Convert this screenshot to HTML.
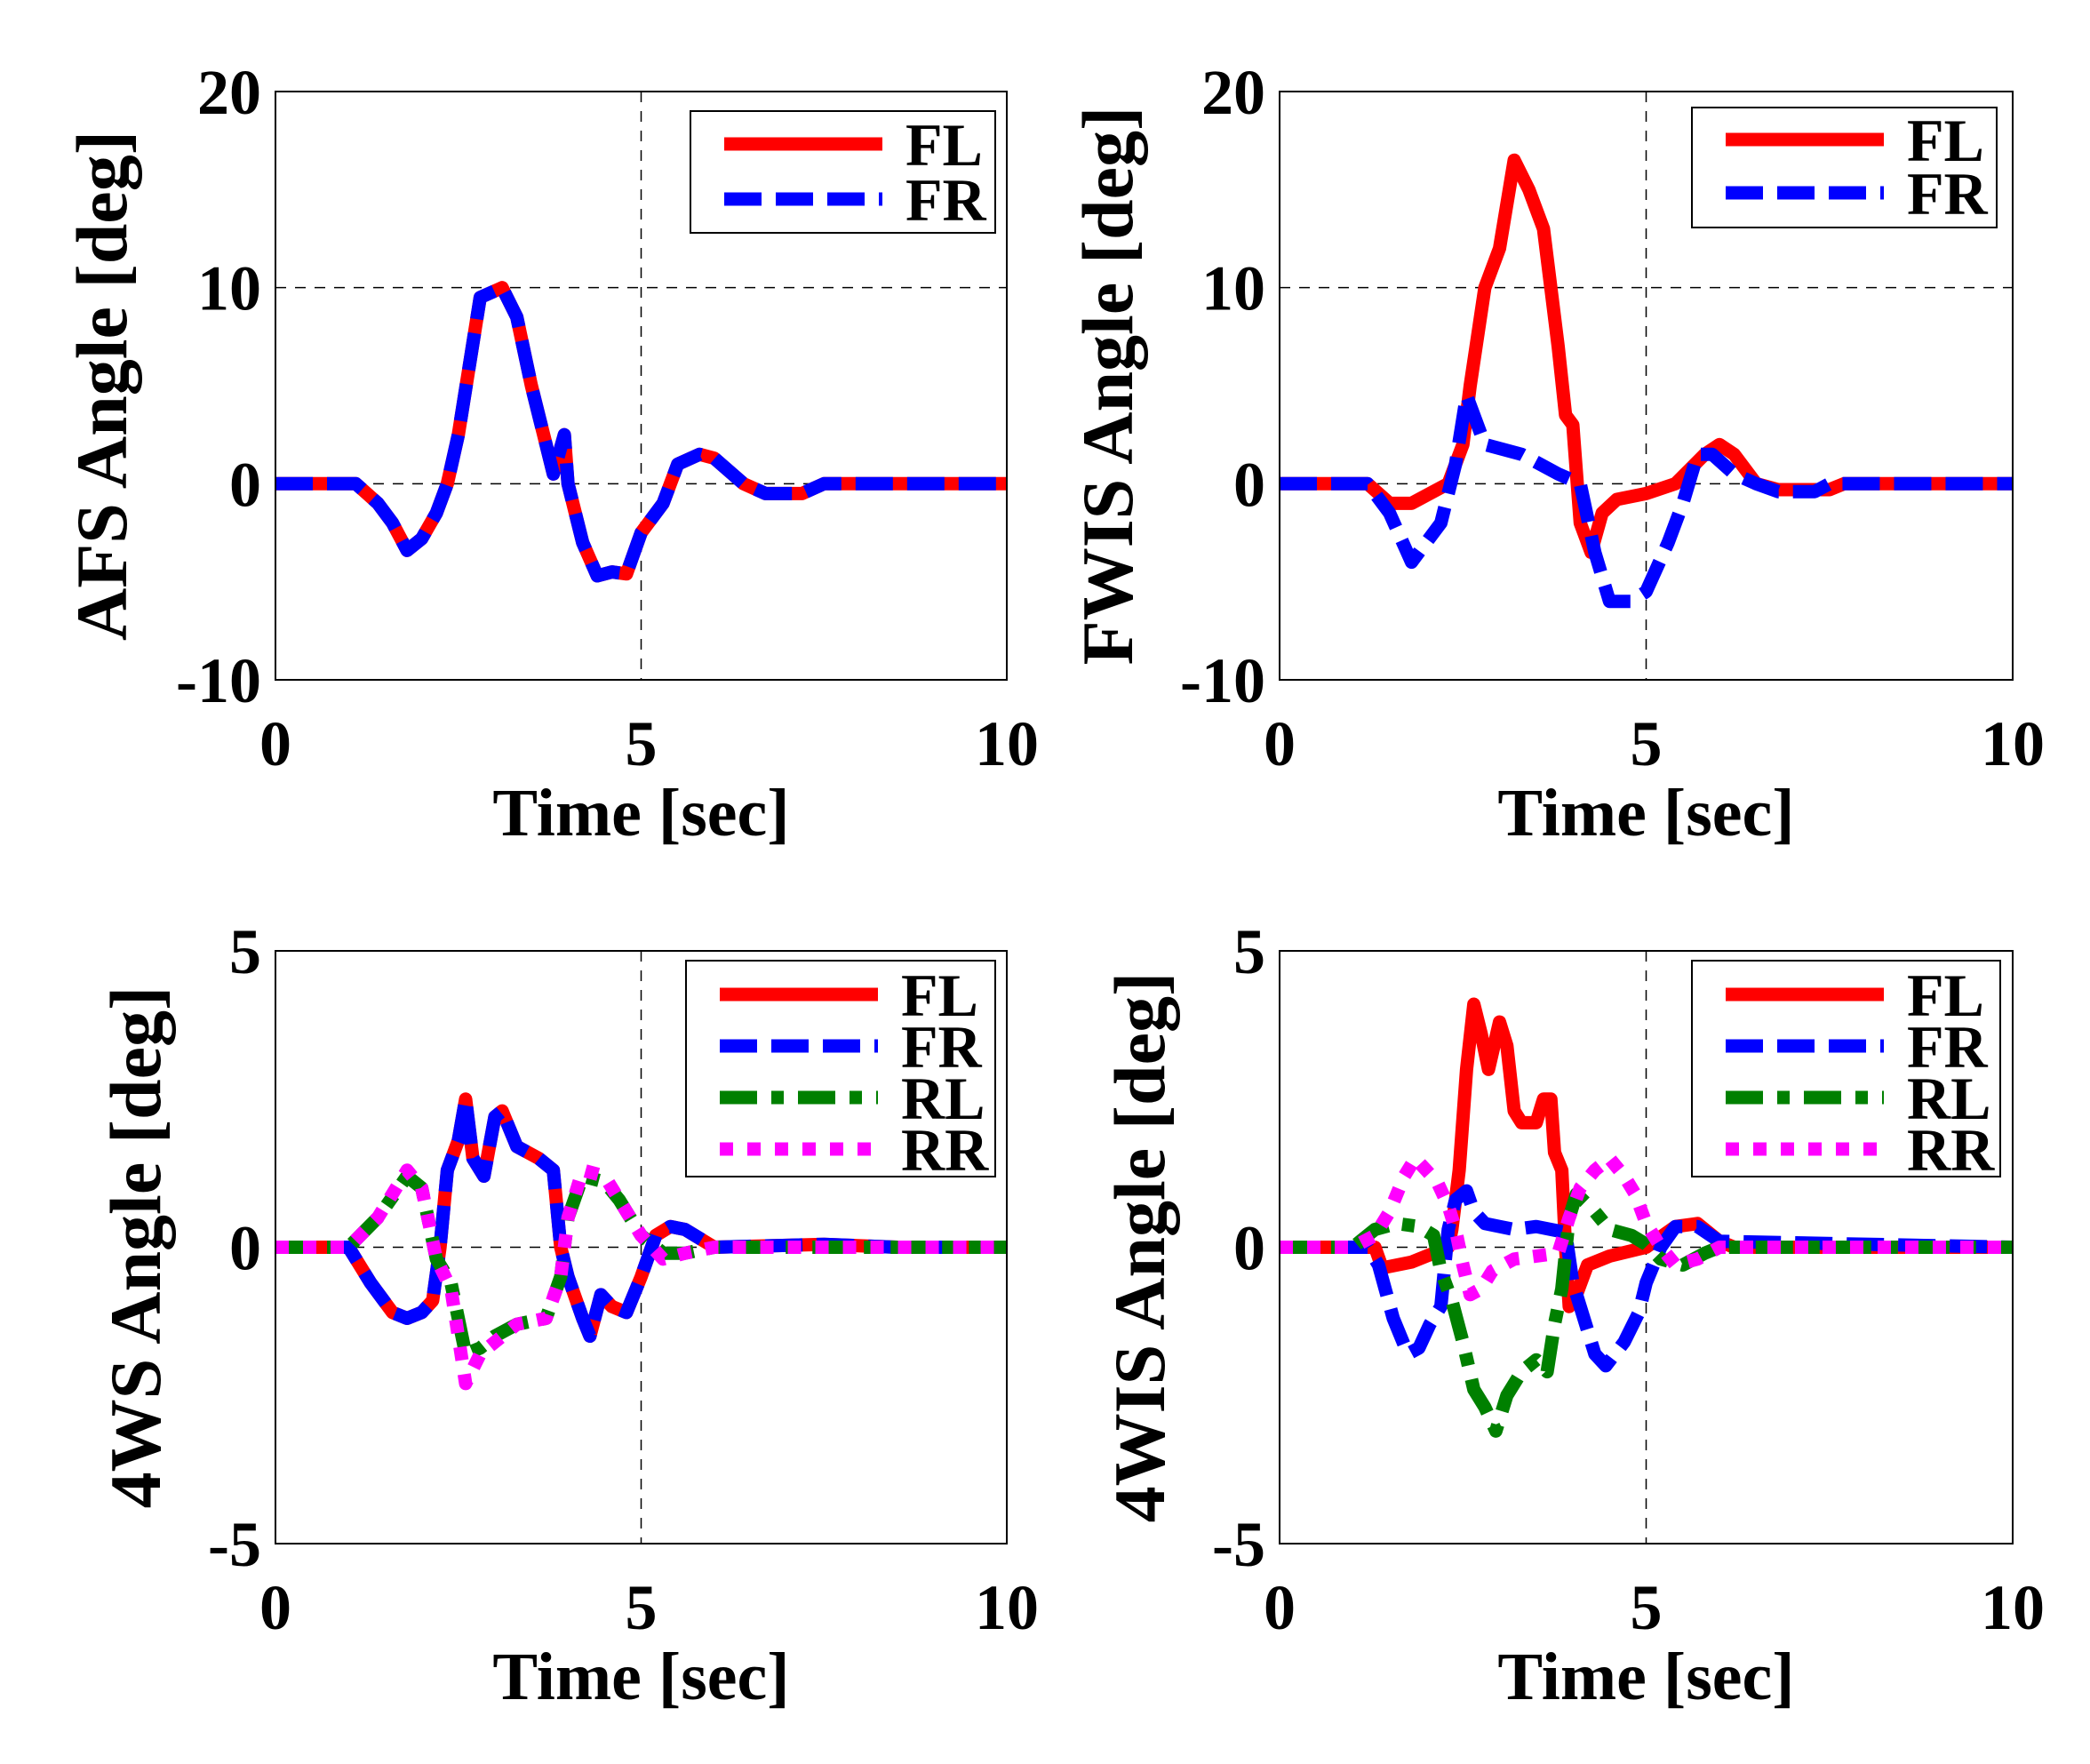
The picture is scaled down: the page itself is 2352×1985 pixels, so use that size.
<!DOCTYPE html>
<html><head><meta charset="utf-8"><style>
html,body{margin:0;padding:0;background:#fff;}
svg{display:block;font-family:"Liberation Serif",serif;font-weight:bold;}
</style></head><body>
<svg id="fig" width="2352" height="1985" viewBox="0 0 2352 1985" xmlns="http://www.w3.org/2000/svg"></svg>
<script>
// ---- data ----
const afsT = [0,1.1,1.4,1.6,1.8,2.0,2.2,2.35,2.5,2.65,2.8,3.1,3.3,3.5,3.7,3.8,3.95,4.0,4.2,4.4,4.6,4.8,5.0,5.3,5.5,5.8,6.0,6.4,6.7,7.2,7.5,10];
const afsV = [0,0,-1,-2,-3.4,-2.8,-1.5,0,2.5,6,9.5,10,8.5,5,2,0.5,2.5,0,-3,-4.7,-4.5,-4.6,-2.5,-1,1,1.5,1.3,0,-0.5,-0.5,0,0];
const fwisFLT = [0,1.2,1.5,1.8,2.3,2.5,2.6,2.8,3.0,3.2,3.4,3.6,3.8,3.9,4.0,4.1,4.25,4.4,4.6,5.0,5.4,5.8,6.0,6.2,6.5,6.8,7.5,7.7,10];
const fwisFLV = [0,0,-1,-1,0,2,5,10,12,16.5,15,13,7,3.5,3,-2,-3.5,-1.5,-0.8,-0.5,0,1.5,2,1.5,0,-0.3,-0.3,0,0];
const fwisFRT = [0,1.2,1.5,1.8,2.0,2.2,2.4,2.55,2.8,3.3,3.8,4.1,4.3,4.5,4.8,5.0,5.3,5.5,5.7,5.9,6.2,6.5,6.8,7.3,7.5,10];
const fwisFRV = [0,0,-1.5,-4,-3,-2,1,4.5,2,1.5,0.5,0,-3.5,-6,-6,-5.5,-3,-1,1.5,1.5,0.5,0,-0.4,-0.4,0,0];
const ws4FT = [0,1.0,1.3,1.6,1.8,2.0,2.15,2.25,2.35,2.5,2.6,2.7,2.85,3.0,3.1,3.3,3.6,3.8,3.9,4.0,4.2,4.3,4.45,4.6,4.8,5.0,5.2,5.4,5.6,6.0,7.5,8.5,10];
const ws4FV = [0,0,-0.6,-1.1,-1.2,-1.1,-0.9,0,1.3,1.8,2.5,1.5,1.2,2.2,2.3,1.7,1.5,1.3,0,-0.5,-1.2,-1.5,-0.8,-1,-1.1,-0.5,0.2,0.35,0.3,0,0.05,0,0];
const ws4RLT = [0,1.0,1.4,1.8,2.0,2.2,2.4,2.6,2.8,3.0,3.3,3.7,3.9,4.0,4.2,4.5,4.7,5.0,5.3,5.6,6.0,10];
const ws4RLV = [0,0,0.5,1.2,1.0,-0.2,-0.6,-1.8,-1.7,-1.5,-1.3,-1.2,-0.5,0.5,1.2,1.1,0.8,0.2,-0.1,-0.1,0,0];
const ws4RRV = [0,0,0.5,1.3,1.0,-0.2,-0.7,-2.3,-1.8,-1.6,-1.3,-1.2,-0.5,0.5,1.3,1.2,0.8,0.2,-0.2,-0.1,0,0];
const wis4FLT = [0,1.3,1.4,1.8,2.1,2.3,2.35,2.45,2.55,2.65,2.75,2.85,3.0,3.1,3.2,3.3,3.5,3.6,3.7,3.75,3.85,3.9,3.95,4.05,4.2,4.5,5.0,5.4,5.7,6.0,6.2,10];
const wis4FLV = [0,0,-0.35,-0.25,-0.1,0,0.3,1.3,3.0,4.1,3.6,3.0,3.8,3.4,2.3,2.1,2.1,2.5,2.5,1.6,1.3,0,-1.0,-0.8,-0.3,-0.15,0,0.35,0.4,0.1,0,0];
const wis4FRT = [0,1.2,1.35,1.55,1.75,1.9,2.05,2.2,2.3,2.4,2.55,2.65,2.8,3.0,3.2,3.5,3.9,4.0,4.1,4.3,4.45,4.7,4.9,5.0,5.2,5.4,5.7,6.0,10];
const wis4FRV = [0,0,-0.3,-1.2,-1.8,-1.7,-1.3,-1.0,0.3,0.8,0.95,0.6,0.4,0.35,0.3,0.35,0.25,-0.6,-1.0,-1.8,-2.0,-1.6,-1.1,-0.6,0,0.35,0.35,0.1,0];
const wis4RLT = [0,1.0,1.3,1.6,1.9,2.1,2.2,2.35,2.5,2.65,2.8,2.95,3.1,3.3,3.5,3.65,3.75,3.85,3.95,4.05,4.3,4.5,4.8,5.0,5.2,5.5,5.8,6.0,10];
const wis4RLV = [0,0,0.3,0.4,0.35,0.2,-0.4,-0.9,-1.6,-2.4,-2.7,-3.1,-2.5,-2.1,-1.9,-2.1,-1.3,-0.7,0.5,0.9,0.6,0.3,0.2,0.05,-0.2,-0.3,-0.1,0,0];
const wis4RRT = [0,1.0,1.3,1.5,1.7,1.85,2.0,2.15,2.3,2.4,2.5,2.6,2.75,2.9,3.2,3.5,3.8,3.95,4.1,4.3,4.5,4.7,4.85,5.0,5.2,5.4,5.7,6.0,10];
const wis4RRV = [0,0,0.2,0.6,1.2,1.5,1.3,1.1,0.7,0.3,-0.3,-0.8,-0.7,-0.4,-0.2,-0.15,-0.1,0.5,1.0,1.3,1.5,1.2,0.9,0.4,0,-0.3,-0.2,0,0];
const xTicks = [0,5,10];
const yTicksTop = [20,10,0,-10];
const yTicksBot = [5,0,-5];

const NS="http://www.w3.org/2000/svg";
const svg=document.getElementById('fig');
function mk(tag,attrs,parent){const e=document.createElementNS(NS,tag);for(const k in attrs)e.setAttribute(k,attrs[k]);(parent||svg).appendChild(e);return e;}
const SW=15;
const STY={
 FL:{stroke:'#ff0000',dash:''},
 FR:{stroke:'#0000ff',dash:'42 16'},
 RL:{stroke:'#008000',dash:'42 16 14 16'},
 RR:{stroke:'#ff00ff',dash:'15 16'}
};
function panel(key,x0,x1,y0,y1,ymax,ymin,grids,ylabel,ylx,series,leg){
  const g=mk('g',{});
  
  
  const sx=t=>x0+(t-0)/(10-0)*(x1-x0);
  const sy=v=>y0+(ymax-v)/(ymax-ymin)*(y1-y0);
  grids.forEach(v=>{const l=mk('line',{x1:x0,x2:x1,y1:sy(v),y2:sy(v),stroke:'#000','stroke-width':1.5,'stroke-dasharray':'12 10'},g);
    });
  const gx=mk('line',{x1:sx(5),x2:sx(5),y1:y0,y2:y1,stroke:'#000','stroke-width':1.5,'stroke-dasharray':'12 10'},g);
  
  series.forEach(s=>{
    const pts=s.t.map((t,i)=>sx(t).toFixed(1)+','+sy(s.v[i]).toFixed(1)).join(' ');
    const p=mk('polyline',{points:pts,fill:'none',stroke:STY[s.n].stroke,'stroke-width':SW,'stroke-dasharray':STY[s.n].dash,'stroke-linejoin':'round'},g);
    
    
  });
  const b=mk('rect',{x:x0,y:y0,width:x1-x0,height:y1-y0,fill:'none',stroke:'#000','stroke-width':2},g);
  
  xTicks.forEach(t=>{
    const tx=mk('text',{x:sx(t),y:y1+96,'text-anchor':'middle','font-size':72},g);tx.textContent=t;
    
  });
  (ymax===20?yTicksTop:yTicksBot).forEach(v=>{
    const ty=mk('text',{x:x0-16,y:sy(v)+25,'text-anchor':'end','font-size':72},g);ty.textContent=v;
    
  });
  const xl=mk('text',{x:(x0+x1)/2,y:y1+175,'text-anchor':'middle','font-size':76},g);xl.textContent='Time [sec]';
  
  const cy=(y0+y1)/2;
  const yl=mk('text',{x:ylx,y:cy,'text-anchor':'middle','font-size':82,transform:'rotate(-90 '+ylx+' '+cy+')'},g);yl.textContent=ylabel;
  
  const lg=mk('g',{},g);
  
  mk('rect',{x:leg.x,y:leg.y,width:leg.w,height:leg.h,fill:'#fff',stroke:'#000','stroke-width':2},lg);
  series.forEach((s,i)=>{
    const ry=leg.y+leg.r0+i*leg.dy;
    const ln=mk('line',{x1:leg.x+38,x2:leg.x+216,y1:ry,y2:ry,stroke:STY[s.n].stroke,'stroke-width':SW,'stroke-dasharray':STY[s.n].dash},lg);
    
    const tx=mk('text',{x:leg.x+242,y:ry+24,'font-size':68},lg);tx.textContent=s.n;
    
  });
}
panel('afs',310,1133,103,765,20,-10,[10,0],'AFS Angle [deg]',142,
  [{n:'FL',t:afsT,v:afsV},{n:'FR',t:afsT,v:afsV}],{x:777,y:125,w:343,h:137,r0:37,dy:62});
panel('fwis',1440,2265,103,765,20,-10,[10,0],'FWIS Angle [deg]',1274,
  [{n:'FL',t:fwisFLT,v:fwisFLV},{n:'FR',t:fwisFRT,v:fwisFRV}],{x:1904,y:121,w:343,h:135,r0:36,dy:60});
panel('4ws',310,1133,1070,1737,5,-5,[0],'4WS Angle [deg]',180,
  [{n:'FL',t:ws4FT,v:ws4FV},{n:'FR',t:ws4FT,v:ws4FV},{n:'RL',t:ws4RLT,v:ws4RLV},{n:'RR',t:ws4RLT,v:ws4RRV}],{x:772,y:1081,w:348,h:243,r0:38,dy:58});
panel('4wis',1440,2265,1070,1737,5,-5,[0],'4WIS Angle [deg]',1310,
  [{n:'FL',t:wis4FLT,v:wis4FLV},{n:'FR',t:wis4FRT,v:wis4FRV},{n:'RL',t:wis4RLT,v:wis4RLV},{n:'RR',t:wis4RRT,v:wis4RRV}],{x:1904,y:1081,w:347,h:243,r0:38,dy:58});
</script>
</body></html>
